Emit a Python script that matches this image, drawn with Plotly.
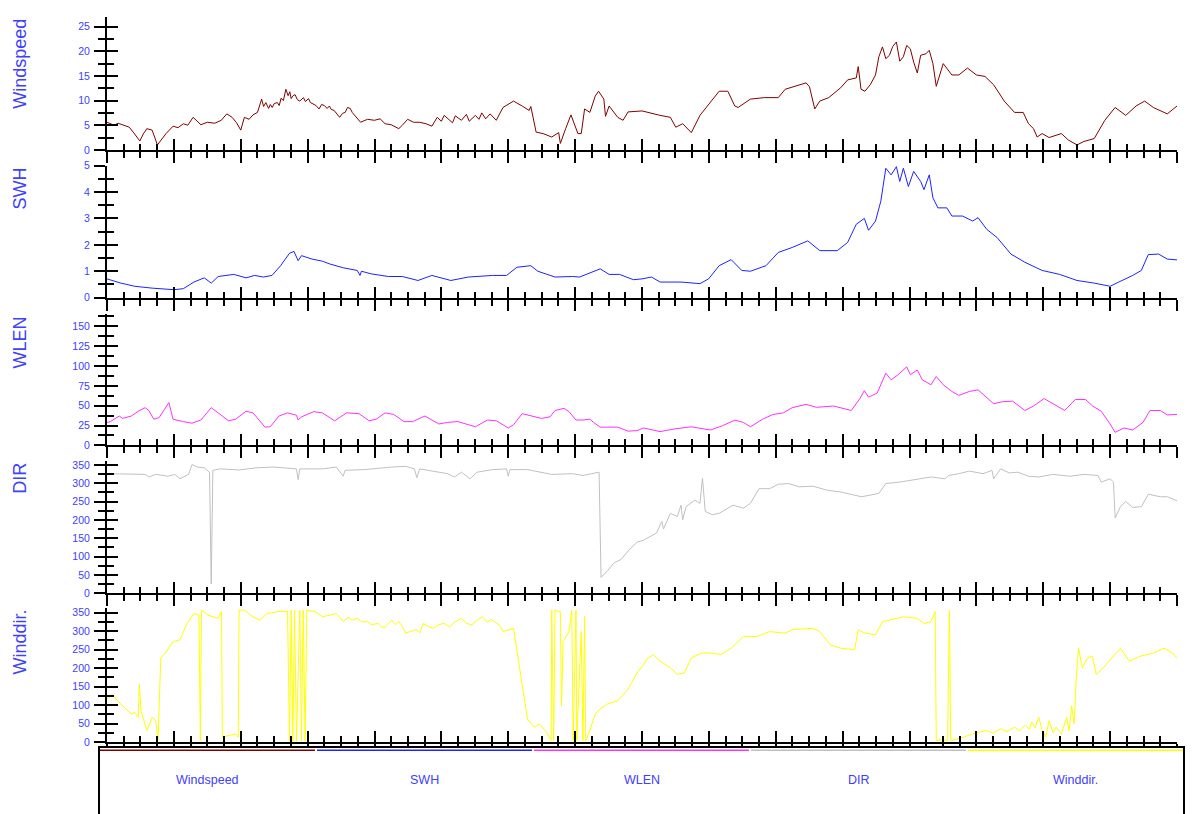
import plotly.graph_objects as go

# ---------------- data (x in hours, 16 days) ----------------
windspeed = [(0,5.6),(2.5,5.0),(4,5.4),(6.2,5.0),(8,4.6),(9.4,3.6),(11.8,1.8),(13,3.2),(14.3,4.3),(16.2,4.0),
    (18.1,1.0),(21.2,3.3),(23.7,4.8),(25.5,4.5),(27.4,5.3),(29,5.0),(30.9,6.6),(33.7,5.1),(36,5.6),(38.7,5.4),
    (41,6.0),(43,7.3),(44.9,6.6),(46.5,5.5),(48,4.0),(49.3,6.6),(51,6.2),(52.4,7.1),(54,7.6),(55.5,10.3),
    (56.2,8.8),(57,9.6),(58,8.4),(58.6,9.2),(59.3,8.6),(60,9.4),(61.1,9.6),(61.8,9.0),(62.5,10.5),(63.3,10.0),
    (64.2,12.3),(65,11.0),(65.6,11.8),(66.1,10.4),(66.8,11.0),(67.5,11.2),(68.3,10.2),(69.2,9.9),(70.5,10.6),(71.2,9.8),
    (72.3,10.4),(73,9.6),(74,9.3),(75,9.0),(76.1,8.3),(77,9.2),(78,9.0),(79,8.4),(79.8,8.9),(80.5,8.2),
    (81.5,8.0),(82.5,7.2),(83.5,6.6),(84.5,7.4),(85.5,7.6),(86.3,8.6),(87.3,8.4),(88,7.6),(89,7.0),(90,6.4),
    (91,5.6),(93.5,6.2),(96,6.0),(98,6.3),(99.8,5.3),(102,5.1),(104.7,4.3),(106,5.0),(107.9,6.2),
    (110,5.6),(112.2,5.6),(114.5,5.3),(116.6,4.8),(118.5,6.6),(120,5.8),(121,7.0),(122.2,6.4),(124,5.5),(125,6.9),
    (127.2,6.0),(129,7.2),(130,5.8),(132.2,7.0),(133.5,6.2),(134.5,7.5),(135.9,6.3),(137.5,7.3),(139.7,6.0),(142.1,8.6),
    (145.9,9.9),(149,8.9),(151.5,8.0),(152.1,8.8),(154,3.6),(156.5,3.3),(159.6,2.6),(162.1,3.5),(162.7,1.3),(164.6,4.3),
    (166.5,7.1),(169,3.3),(170.2,3.3),(171.4,8.3),(173.3,7.6),(175.2,10.9),(176.4,11.9),(178.3,10.3),(178.9,6.8),(180.2,8.9),
    (183.3,6.6),(185.2,6.0),(187,7.7),(192,7.9),(194.7,7.5),(198.5,7.0),(202.2,6.6),(204.1,4.6),(206.6,5.3),(208.5,4.3),
    (209.7,3.5),(212.8,7.0),(215.9,9.3),(219.7,11.9),(222.8,11.9),(225.3,8.9),(226.5,8.6),(230.9,10.3),(235.9,10.6),(240.9,10.6),
    (243.4,12.3),(247.1,12.9),(250.9,13.6),(252.1,12.8),(254,8.3),(255.8,9.9),(259,10.6),(263.3,12.6),(265.8,14.2),(268.9,14.6),
    (269.6,16.9),(270.6,12.3),(272,11.9),(273.9,13.2),(275.8,15.2),(277,18.9),(278.3,20.9),(279.5,18.5),(280.8,19.2),(282,21.0),
    (283.3,21.9),(284.5,18.0),(285.8,18.9),(287,21.2),(288.3,20.5),(289.5,17.8),(290.8,15.6),(292,19.2),(293.9,19.5),(295.1,20.2),
    (296.4,17.5),(297.6,12.9),(300.1,17.5),(303.2,15.2),(305.7,15.2),(308.8,16.6),(312,15.2),(315.1,14.9),(318.2,13.2),(322,9.9),
    (325.7,7.6),(328.8,7.6),(330.7,5.3),(332.5,4.3),(333.8,2.6),(335.6,3.3),(338.1,2.5),(342.5,3.3),(345,2.0),(348.1,1.0),
    (350.6,1.7),(354.3,2.3),(358.1,6.0),(361.8,8.6),(365.6,7.0),(369.3,8.9),(372.4,9.9),(375.5,8.6),(380.5,7.3),(384,8.9)]

swh = [(0,0.71),(5,0.55),(10,0.43),(16.2,0.36),(24.1,0.30),(27.4,0.34),(31.2,0.59),(34.9,0.75),(37.4,0.55),(39.9,0.80),
    (45.5,0.88),(49.9,0.75),(53,0.84),(56.1,0.78),(59.2,0.84),(62.3,1.21),(65.5,1.68),(67.1,1.75),(68.6,1.40),(69.8,1.59),
    (73.6,1.46),(77.3,1.38),(79.8,1.28),(84.8,1.13),(89.8,1.03),(90.8,0.84),(91.3,1.0),(94.8,0.90),(101,0.80),(106,0.80),
    (111.6,0.65),(116.6,0.84),(123.4,0.65),(129.7,0.78),(138.4,0.84),(143.4,0.84),(147.1,1.15),(152.1,1.21),(154.6,1.0),(160.8,0.78),
    (167.1,0.80),(169.6,0.78),(177,1.09),(180.2,0.88),(183.9,0.88),(188.9,0.68),(192,0.71),(195.4,0.78),(198.5,0.59),(206,0.59),
    (212.8,0.53),(215.9,0.71),(219.7,1.21),(224,1.44),(227.8,1.03),(230.9,1.0),(236.5,1.21),(240.9,1.71),(245.9,1.90),(251.5,2.15),
    (255.8,1.78),(262.1,1.78),(265.8,2.09),(268.9,2.78),(271.8,3.0),(273.3,2.55),(275.8,2.9),(277.7,3.65),(279.5,4.9),(281.4,4.65),
    (283.3,4.96),(284.5,4.4),(285.8,4.9),(287.6,4.21),(289.5,4.78),(292,4.4),(293.2,4.09),(295.1,4.65),(296.4,3.78),(298.2,3.4),
    (301.4,3.4),(303.2,3.09),(307,3.09),(310.7,2.9),(312.6,3.03),(315.7,2.59),(319.4,2.28),(324.4,1.65),(329.4,1.34),(335.6,1.03),
    (341.9,0.88),(348.1,0.65),(354.3,0.55),(360,0.43),(363.1,0.59),(368.1,0.84),(371.2,1.03),(373.7,1.63),(377.4,1.65),(380.5,1.46),
    (384,1.43)]

wlen = [(0,29),(1.2,30),(4.4,37),(5.6,34),(8.7,37),(11.2,43),(13.7,47.5),(15,44),(16.8,33),(18.7,35),
    (22.2,54),(23.7,33),(27.4,30),(30.5,28),(33.7,32),(37.4,47.5),(39.9,41),(43.6,31),(46.1,33),(49.9,43),
    (52.4,41),(56.7,23),(58.6,23.5),(61.7,37),(64.8,41),(68,38),(68.6,32),(69.8,36),(74.2,42.5),(77.3,41),
    (81.7,31),(86,41),(90.4,40),(94.1,31),(96.6,33),(99.8,41),(102.9,39),(106.6,30),(109.7,30),(114.1,37),
    (119.1,27),(122.2,29),(125.9,30),(132.2,23.5),(136.5,32),(139.7,31),(144,22),(145.9,26),(149,40),(152.1,37),
    (155.9,34),(159,36),(160.8,44),(164,46.7),(165.8,42.5),(168.3,32),(170.8,32),(173.3,33),(174.6,29),(177,23),
    (180.8,23.5),(183.3,23),(187,18),(190.2,18.6),(192.6,22),(198.5,17.4),(203.5,20.7),(209.7,23.5),(216.6,19.4),(220.9,24.8),
    (225.3,31.8),(228.4,29),(230.9,23.5),(235.3,33),(239,39),(242.7,41),(245.9,47.5),(250.9,51.7),(254.6,48),(260.8,49.6),
    (267.1,44),(270.2,59),(271.8,69),(273.3,60.7),(276.4,66),(279.5,91),(281.4,82.6),(283.9,89),(287,99),(288.3,89),
    (290.8,95),(292.6,82.6),(295.7,76.4),(297.6,86.8),(300.1,76.4),(303.2,68),(305.7,63),(309.5,68),(312.6,70),(315.7,60),
    (318.2,52.5),(321.3,55),(325,55.8),(329.4,44),(332.5,49.6),(336.3,59),(339.4,52.5),(343.7,44),(347.5,57.8),(351.2,57.8),
    (353.7,49.6),(356.8,43),(360,27),(361.8,16.5),(365,22),(368.1,19.4),(371.8,29),(374.3,44),(378,44),(380.5,38.4),
    (384,39)]

direction = [(0,326),(7.5,326),(13.7,324),(15,317),(17.5,324),(21.8,319),(24.3,324),(26.2,312),(29.3,324),(30.5,351),
    (32.4,344),(34.9,342),(36.8,330),(37.4,25),(38,335),(40.5,339),(47.4,336),(53.6,342),(59.9,344),(68,339),
    (68.6,310),(69.2,339),(77.3,339),(82.3,344),(84.8,319),(85.4,335),(92.3,337),(102.2,344),(107.2,346),(110.3,339),
    (111.2,315),(112.2,339),(118.5,330),(122.2,326),(124.7,317),(127.2,330),(130.3,312),(132.8,330),(138.4,337),(143.4,339),
    (144,319),(144.6,337),(150.9,337),(159.6,324),(167.1,326),(170.8,321),(176.6,330),(177.3,43),(179.6,61),(182,83),
    (184.5,92),(187,115),(190.2,139),(192.6,145),(197.2,164),(199.1,196),(199.7,175),(202.2,218),(204.7,209),(206,240),
    (206.6,200),(207.8,236),(211,254),(212.8,245),(213.7,314),(214.7,223),(217.2,214),(219.7,218),(224.7,240),(228.4,232),
    (230.9,245),(234,285),(237.8,285),(240.9,297),(244.6,299),(248.4,290),(253.3,292),(258.3,281),(263.3,276),(267.1,270),
    (270.8,263),(277,272),(279.5,299),(284.5,303),(290.8,312),(295.7,317),(300.7,312),(302,321),(305.7,326),(309.5,333),
    (314.4,326),(317.6,335),(318.2,312),(320.7,339),(323.8,328),(326.9,330),(330.7,319),(334.4,317),(339.4,324),(345.6,319),
    (350.6,324),(355.6,321),(356.8,303),(360,312),(361.2,303),(361.8,205),(363.7,236),(365.6,250),(368.1,234),(371.2,236),
    (373.7,270),(378,263),(380.5,263),(384,252)]

winddir = [(0,116),(1.9,129),(3.7,112),(6.2,94),(8.7,76),(10,80),(11.2,67),(11.6,156),(12.2,85),(14.3,31),
    (16.2,67),(17.5,58),(18.3,4),(19.3,228),(20.6,237),(23.7,272),(26.2,277),(28.7,321),(31.2,348),(33,344),
    (33.5,4),(33.9,357),(36.2,344),(39.9,335),(41.1,353),(41.4,13),(43.6,18),(46.1,22),(47.1,13),(47.4,357),
    (49.3,357),(52.4,339),(54.9,330),(57.4,348),(61.1,353),(64.8,354),(65.5,2),(66.1,357),(66.7,2),(67.3,357),
    (68,2),(69.2,357),(69.8,2),(70.4,357),(71.1,2),(71.7,357),(74.8,353),(77.3,339),(82.3,348),(84.8,326),
    (86.5,338),(88,330),(89.8,335),(91.5,325),(93.5,326),(95,318),(97.3,321),(98.5,312),(99.8,310),(101,322),
    (102.2,330),(103.5,318),(104.7,326),(106,312),(107.2,295),(109,300),(110.9,304),(112.3,296),(113.5,321),(115.5,312),
    (117.2,308),(119,318),(121,321),(123,312),(125,326),(127.2,335),(129,322),(130.9,317),(132.8,330),(134.7,339),
    (136.5,325),(138,332),(139.7,321),(141,315),(142.1,299),(144,304),(145.9,308),(150.9,62),(153.4,40),(155.2,49),
    (157.7,27),(159.4,4),(159.6,357),(160.3,4),(160.8,357),(162.7,353),(163.1,98),(163.7,272),(165.8,299),(166.8,357),
    (167.3,4),(168.3,357),(168.6,4),(170.2,299),(170.8,4),(171.4,340),(171.8,4),(173.3,31),(175.2,76),(177,89),
    (179.6,103),(183.3,112),(187,143),(190.2,187),(192.6,210),(193.5,223),(196,237),(198.5,219),(202.2,201),(204.7,183),
    (207.2,187),(209.7,228),(213.4,241),(217.2,241),(220.3,237),(224,254),(228.4,286),(233.4,286),(237.8,299),(243.4,295),
    (245.9,304),(253.3,308),(255.8,299),(259.6,263),(263.3,254),(268.3,250),(269.6,304),(272,295),(275.8,290),(278.3,326),
    (283.3,335),(285.8,339),(290.8,335),(293.2,321),(295.7,326),(297.2,353),(297.6,4),(299.5,6),(301.7,4),(302.3,357),
    (302.8,4),(305.7,9),(310.7,22),(315.7,31),(318,24),(320.7,36),(323,28),(325.7,40),(327.5,30),(329.4,45),
    (331,35),(331.9,54),(333,38),(334.4,67),(335.6,31),(336.9,13),(338.1,58),(339.5,25),(340.6,40),(342.5,22),
    (344.4,67),(345.3,30),(346.2,98),(347.1,49),(347.9,183),(348.7,254),(350,201),(351.9,228),(353.7,232),(355,183),
    (357.5,201),(360.6,228),(363.7,254),(366.9,219),(370.6,232),(375.5,241),(379.3,254),(382.4,241),(384,228)]

names = ["Windspeed", "SWH", "WLEN", "DIR", "Winddir."]
colors = ["#800000", "#2020ff", "#ff30ff", "#c0c0c0", "#ffff00"]
series = [windspeed, swh, wlen, direction, winddir]
y_ranges = [(0, 27), (0, 5), (0, 165), (0, 360), (0, 363)]
y_major = [5, 1, 25, 50, 50]
y_minor = [2.5, 0.5, 12.5, 25, 25]
x_range = (0, 384)
x_major, x_minor = 24, 6

# ---------------- layout geometry (pixels) ----------------
W, H = 1192, 814
blue = "#4040ff"
panel_px = [(11, 146), (162, 296), (313, 446), (462, 596), (611, 747)]
x_dom = [107 / W, 1177 / W]

def py(p):
    return 1 - p / H

fig = go.Figure()
layout = dict(width=W, height=H, margin=dict(l=0, r=0, t=0, b=0),
              paper_bgcolor="white", plot_bgcolor="rgba(0,0,0,0)", showlegend=False,
              font=dict(family="Liberation Sans, Arial, sans-serif", color=blue))
annotations, shapes = [], []

for i in range(5):
    n = i + 1
    ov = str(i + 6)
    sfx = "" if n == 1 else str(n)
    pts = series[i]
    fig.add_trace(go.Scatter(x=[p[0] for p in pts], y=[p[1] for p in pts], mode="lines",
                             line=dict(color=colors[i], width=1), name=names[i],
                             xaxis="x" + sfx, yaxis="y" + sfx, hoverinfo="skip"))
    # empty trace that only registers the twin (inside-tick) axes so that they are drawn
    fig.add_trace(go.Scatter(x=[], y=[], mode="lines", xaxis="x" + ov, yaxis="y" + ov,
                             hoverinfo="skip", showlegend=False))
    top, bot = panel_px[i]
    ydom = [py(bot), py(top)]
    common_x = dict(range=list(x_range), domain=x_dom, showgrid=False, zeroline=False,
                    showticklabels=False, tick0=0, dtick=x_major, ticklen=11, tickwidth=2,
                    tickcolor="black", fixedrange=True)
    common_y = dict(range=list(y_ranges[i]), domain=ydom, showgrid=False, zeroline=False, tick0=0,
                    dtick=y_major[i], ticklen=11, tickwidth=2, tickcolor="black", fixedrange=True)
    layout["xaxis" + sfx] = dict(common_x, anchor="y" + sfx, showline=True, linecolor="black",
                                 linewidth=2, ticks="outside",
                                 minor=dict(ticks="outside", ticklen=6, tickwidth=2, tickcolor="black",
                                            dtick=x_minor, tick0=0, showgrid=False))
    layout["yaxis" + sfx] = dict(common_y, anchor="x" + sfx, showline=True, linecolor="black",
                                 linewidth=2, ticks="outside",
                                 tickfont=dict(size=10.5, color=blue), ticklabelstandoff=2,
                                 minor=dict(ticks="outside", ticklen=7, tickwidth=2, tickcolor="black",
                                            dtick=y_minor[i], tick0=0, showgrid=False))
    layout["xaxis" + ov] = dict(common_x, anchor="y" + ov, showline=False, ticks="inside",
                                minor=dict(ticks="inside", ticklen=6, tickwidth=2, tickcolor="black",
                                           dtick=x_minor, tick0=0, showgrid=False))
    layout["yaxis" + ov] = dict(common_y, anchor="x" + ov, showline=False, ticks="inside",
                                showticklabels=False,
                                minor=dict(ticks="inside", ticklen=7, tickwidth=2, tickcolor="black",
                                           dtick=y_minor[i], tick0=0, showgrid=False))
    annotations.append(dict(text=names[i], textangle=-90, x=20 / W, y=py(top), xref="paper", yref="paper",
                            xanchor="center", yanchor="top", showarrow=False,
                            font=dict(size=18, color=blue)))

# legend box at the bottom
lx0, lx1 = 99, 1184
shapes.append(dict(type="rect", xref="paper", yref="paper", x0=lx0 / W, x1=lx1 / W, y0=-0.05, y1=py(752),
                   line=dict(color="black", width=2), fillcolor="white", layer="above"))
seg = (lx1 - lx0) / 5
for i in range(5):
    a = lx0 + i * seg
    shapes.append(dict(type="line", xref="paper", yref="paper", x0=(a + 1) / W, x1=(a + seg - 1) / W,
                       y0=py(755.5), y1=py(755.5), line=dict(color=colors[i], width=1.5), layer="above"))
    annotations.append(dict(text=names[i], x=(a + seg / 2) / W, y=py(786), xref="paper", yref="paper",
                            xanchor="center", yanchor="middle", showarrow=False,
                            font=dict(size=12.5, color=blue)))

layout["annotations"] = annotations
layout["shapes"] = shapes
fig.update_layout(**layout)
fig.write_html("out.html")
